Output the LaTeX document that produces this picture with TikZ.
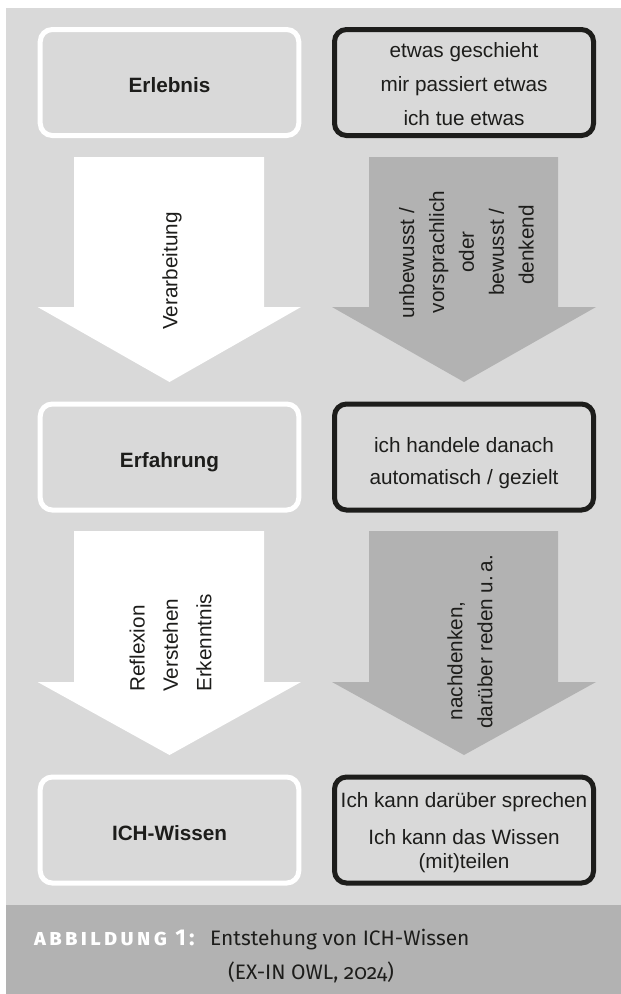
\documentclass[tikz,border=0pt]{standalone}
\usepackage{fontspec}
\setmainfont{Liberation Sans}
\newfontfamily\capfont{Fira Sans}
\definecolor{bgc}{HTML}{D9D9D9}
\definecolor{bandc}{HTML}{B2B2B2}
\definecolor{arrc}{HTML}{B2B2B2}
\definecolor{inkc}{HTML}{1D1D1B}
\newcommand{\fs}[1]{\fontsize{20.8}{#1}\selectfont}
\begin{document}
\begin{tikzpicture}[x=1bp,y=-1bp,
  every node/.style={inner sep=0pt, text=inkc},
  leftbox/.style={draw=white, line width=5bp, rounded corners=12bp,
    minimum width=258.5bp, minimum height=106bp,
    text height=20bp, text depth=0bp,
    font=\bfseries\fs{26}},
  rightbox/.style={draw=inkc, line width=5bp, rounded corners=12bp,
    minimum width=259bp, minimum height=106bp},
  boxtext/.style={align=center},
  rottext/.style={rotate=90, align=center},
  whitearrow/.style={fill=white},
  grayarrow/.style={fill=arrc}
]
\useasboundingbox (0,0) rectangle (621,994);
\fill[white] (0,0) rectangle (621,994);
\fill[bgc] (6,8) rectangle (621,905);
\fill[bandc] (6,905) rectangle (621,994);

% boxes
\node[leftbox] (erlebnis) at (169.5,82.5) {Erlebnis};
\node[rightbox] (erlebnisR) at (464,82.5) {};
\node[boxtext, font=\fs{34}] (erlebnisT) at ([yshift=-1.5bp]erlebnisR.center)
  {etwas geschieht\\mir passiert etwas\\ich tue etwas};
\node[leftbox] (erfahrung) at (169.5,457) {Erfahrung};
\node[rightbox] (erfahrungR) at (464,457) {};
\node[boxtext, font=\fs{32}] (erfahrungT) at ([yshift=-6bp]erfahrungR.center)
  {ich handele danach\\automatisch / gezielt};
\node[leftbox] (wissen) at (169.5,830) {ICH-Wissen};
\node[rightbox] (wissenR) at (464,830) {};
\node[boxtext, font=\fs{24}] (wissenT) at ([yshift=-3bp]wissenR.center)
  {Ich kann darüber sprechen\\[13bp]Ich kann das Wissen\\(mit)teilen};

% arrows 1
\fill[whitearrow] (74,157) -- (264,157) -- (264,307) -- (301,307) -- (169.5,382)
  -- (37.6,307) -- (74,307) -- cycle;
\fill[grayarrow] (369,157) -- (558,157) -- (558,307) -- (596,307) -- (464,382)
  -- (332,307) -- (369,307) -- cycle;
% arrows 2
\fill[whitearrow] (74,531) -- (264,531) -- (264,682) -- (301,682) -- (169.5,755)
  -- (37.6,682) -- (74,682) -- cycle;
\fill[grayarrow] (369,531) -- (558,531) -- (558,682) -- (596,682) -- (464,755)
  -- (332,682) -- (369,682) -- cycle;

% arrow texts
\node[rottext, font=\fs{30}] (verarb) at (172,271) {Verarbeitung};
\node[rottext, font=\fs{30}] (unbew) at (466.5,252)
  {unbewusst /\hspace*{22bp}\\vorsprachlich\\oder\\bewusst /\hspace*{8bp}\\\hspace*{14bp}denkend};
\node[rotate=90, anchor=west, align=left, font=\fs{33.5}] (reflex) at (170.5,692)
  {Reflexion\\Verstehen\\Erkenntnis};
\node[rottext, font=\fs{30}] (nachd) at (470,642)
  {nachdenken,\hspace*{38bp}\\darüber reden u.\,a.};

% caption
\node[anchor=base west, text=white, font=\capfont\bfseries\fontsize{23}{24}\selectfont\addfontfeature{Letters=UppercaseSmallCaps,LetterSpace=13}] (cap0) at (34,945)
  {ABBILDUNG 1:};
\node[anchor=base west, font=\capfont\fontsize{21}{24}\selectfont] (cap1) at (210,945)
  {Entstehung von ICH-Wissen};
\node[anchor=base west, font=\capfont\fontsize{21}{24}\selectfont\addfontfeature{Numbers=OldStyle}] (cap2) at (228,979)
  {(EX-IN OWL, 2024)};
\end{tikzpicture}
\end{document}
